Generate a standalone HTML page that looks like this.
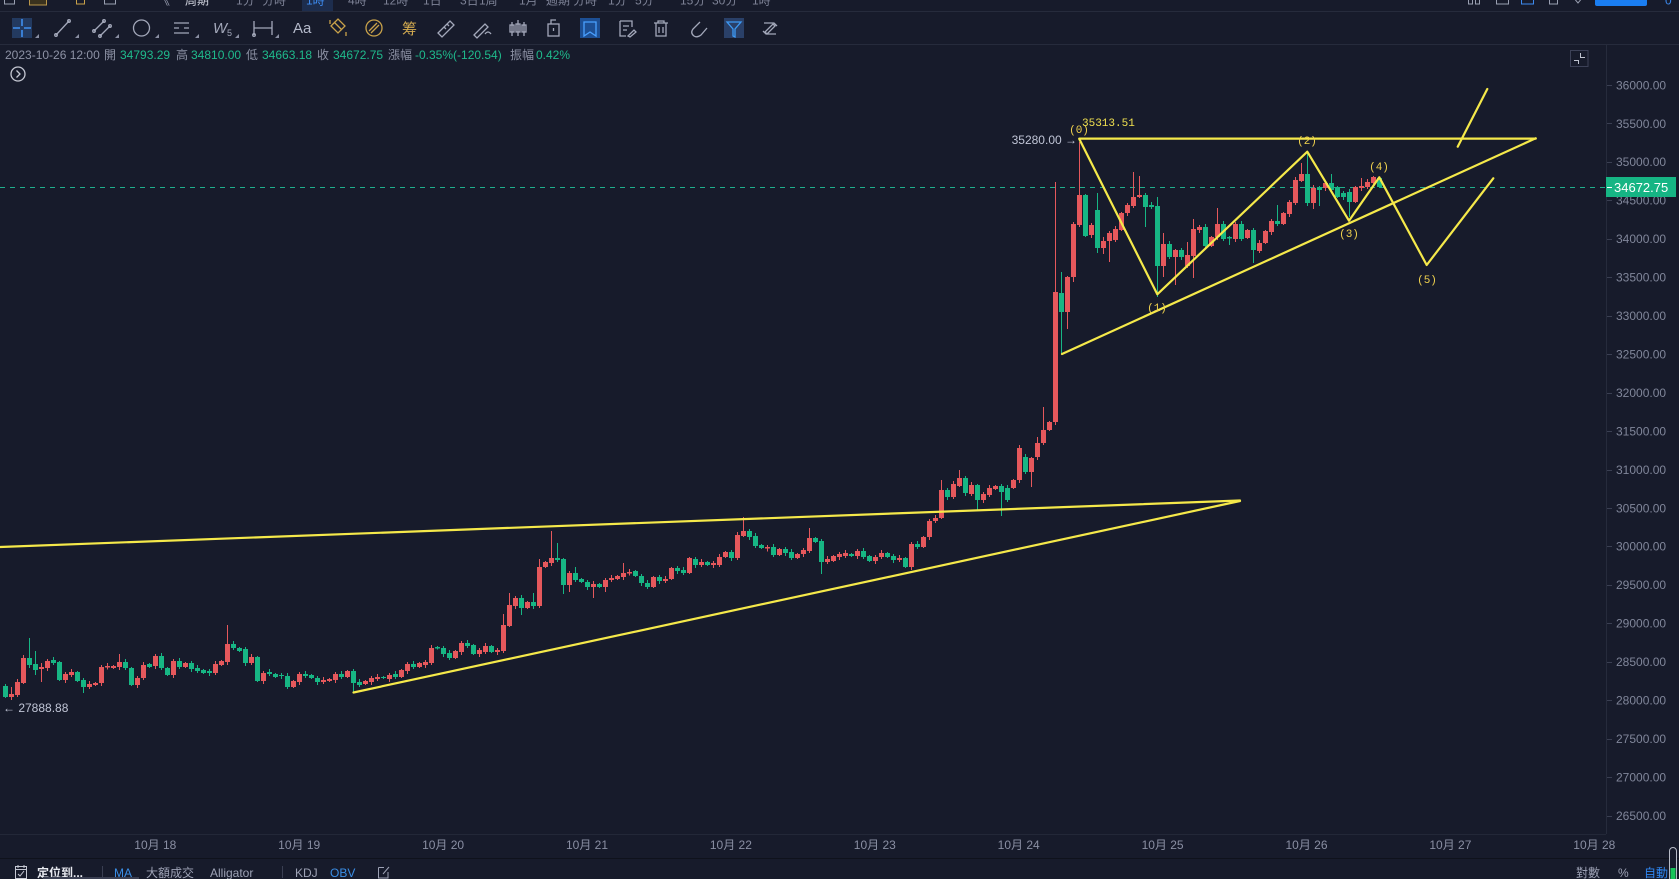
<!DOCTYPE html>
<html><head><meta charset="utf-8">
<style>
html,body{margin:0;padding:0;background:#171b2b;width:1679px;height:879px;overflow:hidden;}
svg{position:absolute;left:0;top:0;font-family:"Liberation Sans","Noto Sans CJK TC","Noto Sans CJK SC",sans-serif;}
</style></head><body>
<svg id="c" width="1679" height="879" xmlns="http://www.w3.org/2000/svg">
<rect x="0" y="0" width="1679" height="879" fill="#171b2b"/>
<!-- top row (cut off) -->
<g font-size="12" fill="#7d8296">
<rect x="4.5" y="-6" width="10" height="10" fill="none" stroke="#9aa0b2"/>
<rect x="29.5" y="-6" width="17" height="11" fill="#3a321e" stroke="#b8954a"/>
<rect x="76.5" y="-6" width="8" height="10" fill="none" stroke="#c9a24a"/>
<rect x="104.5" y="-6" width="11" height="10" fill="none" stroke="#9aa0b2"/>
<rect x="133" y="-4" width="3" height="3" fill="#9aa0b2"/><rect x="139" y="-4" width="3" height="3" fill="#9aa0b2"/>
<text x="158" y="4.5" fill="#9aa0b2">《</text>
<text x="185" y="4.5" fill="#d0d3de">周期</text>
<text x="236" y="4.5">1分</text><text x="262" y="4.5">分時</text>
<rect x="302" y="0" width="31" height="11" fill="#1d2d4d"/><text x="306" y="4.5" fill="#3d8bf0">1時</text>
<text x="348" y="4.5">4時</text><text x="383" y="4.5">12時</text><text x="423" y="4.5">1日</text>
<text x="460" y="4.5">3日</text><text x="479" y="4.5">1周</text><text x="519" y="4.5">1月</text>
<text x="546" y="4.5">週期</text><text x="573" y="4.5">分時</text><text x="608" y="4.5">1分</text>
<text x="635" y="4.5">5分</text><text x="680" y="4.5">15分</text><text x="712" y="4.5">30分</text><text x="752" y="4.5">1時</text>
<rect x="1468.5" y="-6" width="4" height="10" fill="none" stroke="#9aa0b2"/><rect x="1475.5" y="-6" width="4" height="10" fill="none" stroke="#9aa0b2"/>
<rect x="1496.5" y="-6" width="12" height="10" fill="none" stroke="#9aa0b2"/>
<rect x="1521.5" y="-6" width="12" height="10" fill="none" stroke="#3d8bf0"/>
<rect x="1549.5" y="-6" width="8" height="10" fill="none" stroke="#9aa0b2"/>
<path d="M1573 -3 L1578 3 L1583 -3" fill="none" stroke="#9aa0b2"/>
<rect x="1595" y="-4" width="52" height="10" rx="2" fill="#1a7ef2"/>
<text x="1665" y="4.5" fill="#3d8bf0">0</text>
</g>
<rect x="0" y="11" width="1679" height="1" fill="#262b3c"/>
<!-- second row icons -->
<g fill="none" stroke="#a3a8ba" stroke-width="1.3">
<rect x="12" y="18" width="20" height="20" fill="#233a60" stroke="none"/>
<path d="M13 28 H20 M24 28 H31 M22 19 V26 M22 30 V37" stroke="#3f8ff0" stroke-width="1.6"/>
<path d="M56 35 L69 21"/><circle cx="56" cy="35" r="1.3"/><circle cx="69" cy="21" r="1.3"/>
<path d="M94 31 L104 21 M100 36 L110 26"/><circle cx="94" cy="31" r="1.3"/><circle cx="104" cy="21" r="1.3"/><circle cx="100" cy="36" r="1.3"/><circle cx="110" cy="26" r="1.3"/>
<circle cx="141.5" cy="28" r="8"/>
<path d="M174 23 H189 M174 28 H179 M184 28 H189 M174 33 H189"/>
<path d="M254 21 V35 M272 21 V35 M254 28 H272"/><circle cx="254" cy="35" r="1.3"/>
<path d="M331 26 L338 19 L345 26 L338 33 Z M334 22 L342 30" stroke="#c9a24a"/>
<path d="M330 20 V24 M346 32 V36" stroke="#c9a24a"/>
<circle cx="374" cy="28" r="8" stroke="#c9a24a"/><path d="M369 31 L377 23 M371 33 L379 25" stroke="#c9a24a"/>
<path d="M438 33 L450 21 L454 25 L442 37 Z M444 27 L446 29 M447 24 L449 26"/>
<path d="M474 35 L485 24 L488 27 L477 38 Z M485 34 Q488 30 491 34"/>
<path d="M512 22 V36 M518 20 V36 M524 22 V36"/><rect x="510" y="25" width="4" height="7"/><rect x="516" y="24" width="4" height="8"/><rect x="522" y="25" width="4" height="7"/>
<rect x="548" y="24" width="11" height="12"/><path d="M551 24 V20 H556 M553.5 28 V31"/>
<rect x="580" y="18" width="20" height="20" fill="#1d4f94" stroke="none"/>
<path d="M584 22 H596 V36 L590 32 L584 36 Z" stroke="#4aa0ff"/>
<path d="M620 21 H632 V27 M620 21 V36 H626 M623 26 H629 M623 30 H627 M628 36 L634 30 L636 32 L630 37 Z"/>
<path d="M654 23 H668 M658 23 V21 H664 V23 M656 23 V36 H666 V23 M659 27 V33 M663 27 V33"/>
<path d="M700 22 L693 29 Q690 33 694 36 Q697 38 701 35 L707 28"/>
<rect x="724" y="18" width="20" height="20" fill="#2a4068" stroke="none"/>
<path d="M727 22 H741 L735 29 V37 L733 36 V29 Z" stroke="#3d9af5"/>
<path d="M764 23 H774 L777 26 M776 34 H766 L763 31 M765 32 L773 24 L775 26 L767 34 Z"/>
</g>
<g fill="#8a8fa3">
<path d="M35 38 H39 V34 Z"/><path d="M75 38 H79 V34 Z"/><path d="M115 38 H119 V34 Z"/><path d="M155 38 H159 V34 Z"/><path d="M195 38 H199 V34 Z"/><path d="M235 38 H239 V34 Z"/><path d="M275 38 H279 V34 Z"/>
</g>
<text x="213" y="33" font-size="15" font-style="italic" fill="#a3a8ba">W</text><text x="227" y="36" font-size="9" fill="#a3a8ba">5</text>
<text x="293" y="33" font-size="15" fill="#b5bacb">Aa</text>
<text x="402" y="34" font-size="15" fill="#d2aa50">筹</text>
<rect x="0" y="44" width="1679" height="1" fill="#262b3c"/>
<!-- info row -->
<g font-size="12" fill="#8d92a5">
<text x="5" y="59">2023-10-26 12:00</text>
<text x="104" y="59">開</text><text x="120" y="59" fill="#1fba8c">34793.29</text>
<text x="176" y="59">高</text><text x="191" y="59" fill="#1fba8c">34810.00</text>
<text x="246" y="59">低</text><text x="262" y="59" fill="#1fba8c">34663.18</text>
<text x="317" y="59">收</text><text x="333" y="59" fill="#1fba8c">34672.75</text>
<text x="388" y="59">漲幅</text><text x="415" y="59" fill="#1fba8c">-0.35%(-120.54)</text>
<text x="510" y="59">振幅</text><text x="536" y="59" fill="#1fba8c">0.42%</text>
</g>
<circle cx="18" cy="74" r="7" fill="none" stroke="#c5c8d3" stroke-width="1.3"/>
<path d="M16.5 70.5 L20 74 L16.5 77.5" fill="none" stroke="#c5c8d3" stroke-width="1.3"/>
<!-- expand icon -->
<rect x="1570.5" y="50.5" width="17.5" height="16" fill="none" stroke="#3c4157"/>
<path d="M1574 60.5 H1578.5 V64 M1580.5 53 V57.5 H1585" fill="none" stroke="#c0c4d0"/>
<!-- price axis -->
<rect x="1606" y="44" width="1" height="790" fill="#262b3c"/>
<g id="paxis" font-size="12" fill="#80869a"></g>
<!-- current price dashed -->
<line x1="0" y1="187.5" x2="1606" y2="187.5" stroke="#1fae8c" stroke-width="1" stroke-dasharray="5 5"/>
<!-- candles -->
<g id="candles"></g>
<!-- yellow drawings -->
<g stroke="#f5e94a" stroke-width="2.2" fill="none" stroke-linecap="round" stroke-linejoin="round">
<line x1="0" y1="547" x2="1240" y2="500.5"/>
<line x1="353.5" y1="692.5" x2="1240" y2="501"/>
<line x1="1079.3" y1="138.6" x2="1535.7" y2="138.6"/>
<line x1="1062" y1="354" x2="1535.7" y2="138.3"/>
<polyline points="1079.3,139 1157.3,294.3 1307.3,151.7 1349,220.7 1379.3,177.3 1426.7,265 1493.3,178.3"/>
<line x1="1457.7" y1="146.7" x2="1487.3" y2="89"/>
</g>
<g font-family="'Liberation Mono','DejaVu Sans Mono',monospace" font-size="11" fill="#f0d24e" text-anchor="middle">
<text x="1079" y="133">(0)</text>
<text x="1157" y="311">(1)</text>
<text x="1307" y="144">(2)</text>
<text x="1349" y="237">(3)</text>
<text x="1379" y="170">(4)</text>
<text x="1427" y="283">(5)</text>
</g>
<text x="1082" y="126" font-family="'Liberation Mono','DejaVu Sans Mono',monospace" font-size="11" fill="#f2e24f">35313.51</text>
<text x="1077" y="144" font-size="12" fill="#c0c5d6" text-anchor="end">35280.00 →</text>
<text x="3" y="712" font-size="12" fill="#c0c5d6">← 27888.88</text>
<!-- price box -->
<rect x="1606" y="177" width="70" height="20" fill="#16b584"/>
<rect x="1607" y="187" width="5" height="1" fill="#ffffff"/>
<text x="1614" y="192" font-size="13" fill="#ffffff">34672.75</text>
<!-- time axis -->
<rect x="0" y="834" width="1606" height="1" fill="#232838"/>
<rect x="0" y="858" width="1679" height="1" fill="#0f121c"/>
<g id="taxis" font-size="12" fill="#8a8fa3" text-anchor="middle"></g>
<!-- bottom bar -->
<g font-size="12">
<rect x="15.5" y="866.5" width="11" height="12" fill="none" stroke="#c5c8d3"/>
<path d="M15.5 869.5 H26.5 M18 865 V868 M24 865 V868 M18 874 L20 876 L24 871" fill="none" stroke="#c5c8d3"/>
<text x="37" y="877" fill="#e8eaf0" font-weight="bold">定位到...</text>
<rect x="43" y="877" width="96" height="2" fill="#3a3f52"/>
<rect x="102" y="866" width="1" height="12" fill="#3a3f52"/>
<text x="114" y="877" fill="#3a8ee6">MA</text>
<text x="146" y="877" fill="#9da2b5">大額成交</text>
<text x="210" y="877" fill="#9da2b5">Alligator</text>
<rect x="282" y="866" width="1" height="12" fill="#3a3f52"/>
<text x="295" y="877" fill="#9da2b5">KDJ</text>
<text x="330" y="877" fill="#3a8ee6">OBV</text>
<path d="M378.5 867.5 H384 M378.5 867.5 V878 H388 V872 M383 874 L389 867" fill="none" stroke="#9da2b5"/>
<text x="1576" y="877" fill="#9da2b5">對數</text>
<text x="1618" y="877" fill="#9da2b5">%</text>
<text x="1644" y="877" fill="#2f86f0">自動</text>
<rect x="1669.5" y="847.5" width="7" height="34" rx="3.5" fill="#171b2b" stroke="#b8bcc8"/>
<rect x="1670.5" y="868" width="5" height="11" fill="#17c45a"/>
</g>
</svg>
<script>
var D=[[686,697,0,684,698],[694,697,1,687],[682,695,1],[658,683,1,655],[658,665,0,638],[664,670,0,651,675],[667,669,1,663,682],[661,668,1],[660,663,0],[662,680,0],
[674,680,1],[672,675,1],[672,681,0],[680,687,0,0,693],[684,687,1],[683,685,1],[667,683,1],[666,667.5,1],[666,668,1],[662,667,1,654],
[662,668,0],[668,685,0],[678,685,1],[665,678,1],[664,667,0],[656,666,1],[656,668,0],[668,675,0],[661,675,1],[661,667,0],
[663,667,1],[663,669,0],[668,671,0],[670,673,0],[671,673,0],[664,673,1],[661,665,1],[644,662,1,625],[644,648,0],[648,651,0],
[649,663,0],[657,663,1],[657,681,0],[673,681,1],[672,674,0],[674,677,0],[675,676,0],[676,687,0],[681,687,1],[674,682,1],
[674,676,0],[675,678,0],[678,682,0],[680,682,1],[679,681,1],[674,680,1],[674,677,0],[671,677,1],[671,683,0,0,693],[682,685,0],
[681,684,1],[678,682,1],[677,679,1],[677,678,0],[675,679,1],[674,677,0],[670,677,1],[664,671,1],[664,667,0],[663,667,1],
[662,665,1],[648,663,1],[647,648.5,0],[648,654,0],[653,658,0],[651,658,1],[643,652,1],[643,646,0],[645,654,0],[650,654,1],
[646,652,1],[646,652,0],[650,652,1],[625,651,1,614],[605,626,1,593],[598,606,1],[598,608,0,0,615],[602,608,1],[602,606,0,593],[567,606,1,559],
[562,567,1],[558,563,1,531],[558,560,0,543],[559,585,0,0,594],[573,585,1,0,592],[573,580,0,567],[579,582,0],[582,587,0],[584,587,1,0,598],[584,587,0],
[580,587,1,0,592],[578,580,1],[576,579,1],[573,577,1,563],[572,573.5,1],[571,576,0],[576,583,0],[583,587,0],[577,587,1],[577,581,0],
[579,581,1],[568,579,1],[568,571,0],[570,573,0],[558,573,1],[559,565,0],[562,565,1],[562,565,0],[563,565,1],[557,565,1],
[552,557,1],[552,558,0],[535,558,1],[531,536,1,517],[531,537,0],[536,546,0],[545,548,0],[547,548.5,1],[547,555,0],[549,555,1],
[549,553,0],[552,558,0],[554,558,1],[550,554,1],[538,551,1,528],[538,542,0],[541,562,0,0,574],[559,562,1],[556,561,1],[554,557,1],
[553,556,1],[554,556,0],[551,556,1],[551,557,0],[556,561,0],[557,561,1],[553,557,1],[553,557,0],[556,560,0],[558,560,1],
[558,567,0],[544,567,1],[544,547,0],[537,547,1],[521,537,1],[518,521,1],[490,518,1,480],[490,497,0],[484,497,1],[478,486,1,470],
[478,493,0],[485,494,1],[485,500,0,0,510],[494,500,1],[488,495,1],[486,489,1],[486,492,0,0,516],[488,500,0],[480,488,1],[448,480,1,445],
[457,472,0],[458,472,1,0,487],[443,457,1,437],[430,443,1,407],[422,430,1],[292,422,1,182],[293,312,0,272,354],[277,312,1,0,329],[224,277,1,0,282],[195,225,1,142],
[195,236,0],[225,235,1],[210,248,0,193,253],[241,248,1,237,254],[233,241,1,0,262],[229,240,1],[213,230,1],[205,213,1],[197,206,1,172],[195,197,1,176],
[195,207,0,0,227],[205,207,0],[206,266,0,197,297],[244,266,1,233,277],[244,257,0],[250,257,1,0,285],[250,257,0],[255,266,1,242],[229,256,1,219,278],[227,230,1],
[227,246,0],[237,246,1],[224,237,1,208],[224,239,0],[237,238.5,0,0,245],[224,239,1],[224,239,0],[230,238,1],[230,250,0,0,263],[243,251,1],
[231,243,1],[221,232,1],[221,224,0,205],[213,224,1],[202,214,1],[180,203,1],[174,181,1,163],[174,203,0,152],[188,203,1,0,209],[187,190,0,0,206],
[183,188,1],[183,190,0,174],[187,197,0],[193,197,0],[192,202,0,0,217],[187,202,1],[186,188,1,178],[182,187,1],[177,183,1],[178,187,0,176.7,188]];
var s='';
for(var i=0;i<D.length;i++){
 var d=D[i],x=5.8+i*5.998,t=d[0],b=d[1],red=d[2];
 var wt=d[3]||(t-1-((i*7)%3)),wb=d[4]||(b+1+((i*5)%3));
 var col=red?'#e5585c':'#17b684';
 var L=Math.round(x-2.5);
 s+='<rect x="'+(L+2)+'" y="'+wt+'" width="1" height="'+(wb-wt)+'" fill="'+col+'"/>';
 s+='<rect x="'+L+'" y="'+t+'" width="5" height="'+Math.max(1,b-t)+'" fill="'+col+'"/>';
}
document.getElementById('candles').innerHTML=s;
var p='';
for(var k=0;k<20;k++){
 var y=85+k*38.45,v=36000-k*500;
 p+='<rect x="1607" y="'+Math.round(y)+'" width="5" height="1" fill="#3a3f52"/>';
 p+='<text x="1616" y="'+(y+4.3)+'">'+v.toFixed(2)+'</text>';
}
document.getElementById('paxis').innerHTML=p;
var q='';
for(var j=0;j<11;j++){
 q+='<text x="'+(155.3+j*143.9)+'" y="849">10月 '+(18+j)+'</text>';
}
document.getElementById('taxis').innerHTML=q;
</script>
</body></html>
